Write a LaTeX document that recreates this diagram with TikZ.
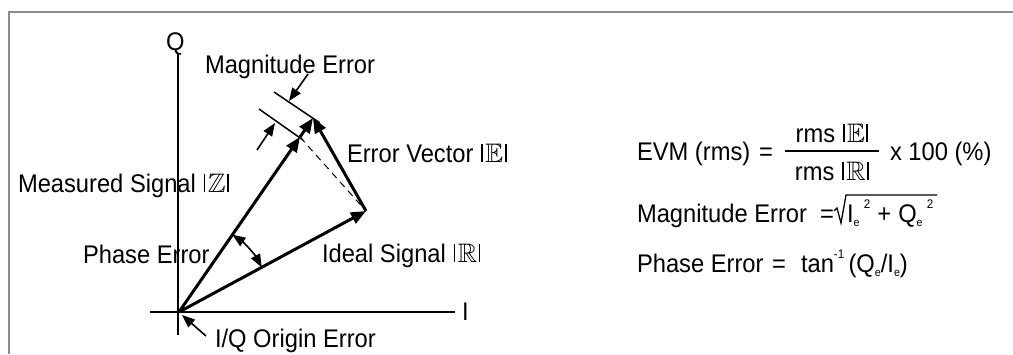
\documentclass[tikz,border=0pt]{standalone}
\usepackage{amssymb}
\usepackage{fontspec}
\setmainfont[FakeStretch=0.93]{Liberation Sans}
\usetikzlibrary{arrows.meta}
\newcommand\vbar{\rule{1.8pt}{18.5pt}}
\newcommand\dbl[1]{\kern1pt\vbar\kern2.5pt\scalebox{1.05}{$\mathbb{#1}$}\kern1.5pt\vbar}
\newcommand\sbx[1]{\raisebox{-4pt}{\fontsize{11.5}{12}\selectfont #1}}
\newcommand\spx[1]{\raisebox{14pt}{\fontsize{12.5}{12}\selectfont #1}}
\begin{document}
\begin{tikzpicture}[x=1pt,y=-1pt,
  every node/.style={inner sep=0pt,outer sep=0pt,font=\fontsize{25.5}{30}\selectfont},
  lbl/.style={anchor=base west},
  axis/.style={line width=1.8pt},
  vec/.style={line width=3pt,-{Triangle[length=15pt,width=12pt]}},
  tick/.style={line width=1.5pt},
  pointer/.style={line width=1.6pt,-{Triangle[length=13pt,width=10pt]}},
  frame/.style={draw=black!45,line width=1.2pt}]
\useasboundingbox (0,0) rectangle (1013,354);
\draw[frame] (9,354) -- (9,12) -- (1013,12);
% geometry
\coordinate (O) at (179,312);
\coordinate (R) at (366,211);
\coordinate (M) at (313,118);
\coordinate (P) at (300,137);
\coordinate (Qtop) at (178,54);
\coordinate (Qbot) at (178,335);
\coordinate (Ileft) at (150,312);
\coordinate (Iright) at (455,312);
% axes
\draw[axis] (Qtop) -- (Qbot);
\draw[axis] (Ileft) -- (Iright);
\node[lbl] (Qlab) at (166,50) {Q};
\node[lbl] (Ilab) at (462,320) {I};
% dashed
\draw[line width=1pt,dash pattern=on 7pt off 5pt] (P) -- (R);
% vectors
\draw[vec] (O) -- (R);
\draw[vec] (O) -- (P);
\draw[vec] (P) -- (M);
\draw[vec] (R) -- (M);
% magnitude error ticks
\coordinate (T1a) at (303,140);
\coordinate (T1b) at (259,109);
\coordinate (T2a) at (320,123);
\coordinate (T2b) at (274,92);
\draw[tick] (T1a) -- (T1b);
\draw[tick] (T2a) -- (T2b);
\coordinate (A1s) at (257,150);
\coordinate (A1e) at (275,123);
\coordinate (A2s) at (308,74);
\coordinate (A2e) at (289,101);
\draw[pointer] (A1s) -- (A1e);
\draw[pointer] (A2s) -- (A2e);
% phase error arc
\draw[line width=1.6pt,{Triangle[length=13pt,width=10pt]}-{Triangle[length=13pt,width=10pt]}]
  (O) ++(-55.4:94) arc[start angle=-55.4,end angle=-28.4,radius=94];
% origin error pointer
\coordinate (OEs) at (206,336);
\coordinate (OEe) at (182,315);
\draw[pointer] (OEs) -- (OEe);
% labels
\node[lbl] (magerr) at (205,73) {Magnitude Error};
\node[lbl] (errvec) at (347,162) {Error Vector \dbl{E}};
\node[lbl] (meas) at (18,192) {Measured Signal \dbl{Z}};
\node[lbl] (pherr) at (83,263) {Phase Error};
\node[lbl] (ideal) at (322,262) {Ideal Signal \dbl{R}};
\node[lbl] (iqerr) at (215,347) {I/Q Origin Error};
% formulas
\node[lbl] (evm) at (637,160) {EVM (rms)};
\node[lbl] (eq1) at (759,160) {=};
\node[anchor=base] (num) at (832,142) {rms \dbl{E}};
\node[anchor=base] (den) at (832,180) {rms \dbl{R}};
\coordinate (fl) at (785,151);
\coordinate (fr) at (879,151);
\draw[line width=1.3pt] (fl) -- (fr);
\node[lbl] (x100) at (890,160) {x 100 (\%)};
\node[lbl] (mag2) at (637,222) {Magnitude Error};
\node[lbl] (eq2) at (820,222) {=};
\coordinate (r1) at (834,211);
\coordinate (r2) at (837,208);
\coordinate (r3) at (841,223);
\coordinate (r4) at (846,195);
\coordinate (r5) at (937,195);
\draw[line width=1.3pt] (r1) -- (r2) -- (r3) -- (r4) -- (r5);
\node[lbl] (rad) at (847,222) {I\sbx{e}\,\spx{2}\;+\;Q\sbx{e}\,\spx{2}};
\node[lbl] (ph2) at (637,272) {Phase Error};
\node[lbl] (eq3) at (772,272) {=};
\node[lbl] (tan) at (801,272) {tan\spx{-1}\,(Q\sbx{e}/I\sbx{e})};
\end{tikzpicture}
\end{document}
